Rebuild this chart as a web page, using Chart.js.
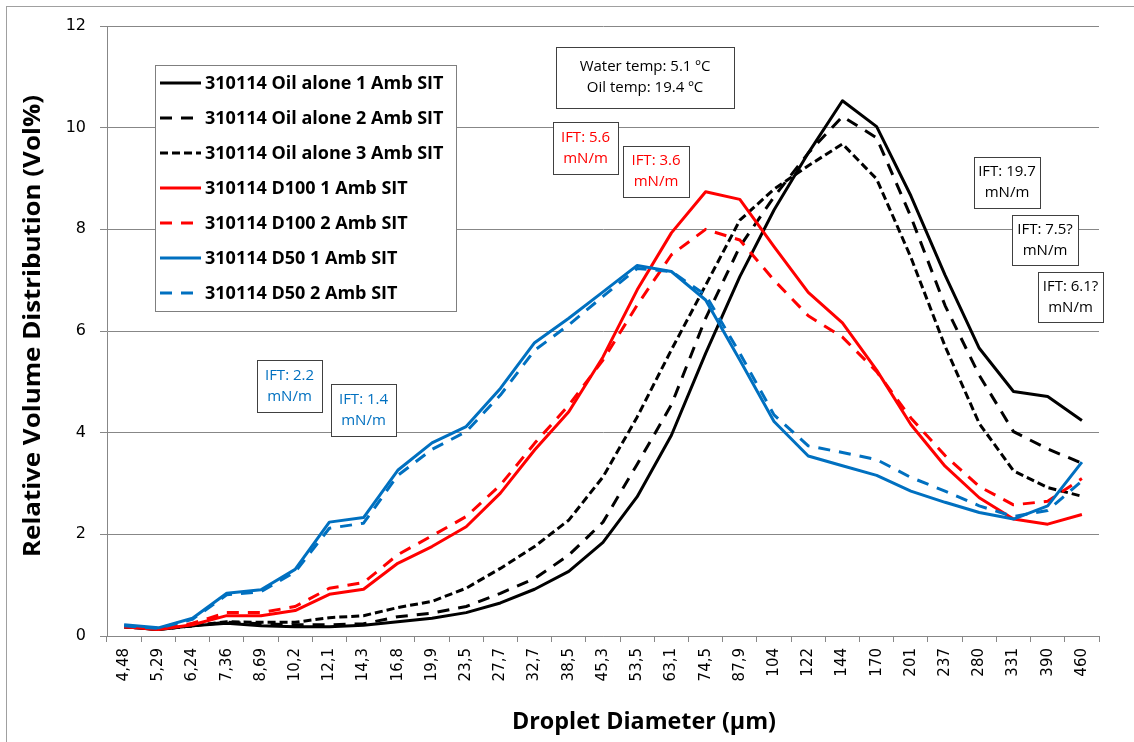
<!DOCTYPE html>
<html>
<head>
<meta charset="utf-8">
<script src="https://cdn.jsdelivr.net/npm/chart.js@4.4.1/dist/chart.umd.min.js"></script>
<style>
  html, body { margin: 0; padding: 0; background: #fff; }
  canvas { display: block; }
</style>
</head>
<body>
<canvas id="chart" width="1134" height="742"></canvas>
<script>
// Droplet diameter classes (µm), as printed on the axis
const diameters = ['4,48', '5,29', '6,24', '7,36', '8,69', '10,2', '12,1', '14,3', '16,8', '19,9',
  '23,5', '27,7', '32,7', '38,5', '45,3', '53,5', '63,1', '74,5', '87,9', '104',
  '122', '144', '170', '201', '237', '280', '331', '390', '460'];

const oilAlone1 = [0.18, 0.13, 0.2, 0.25, 0.2, 0.18, 0.18, 0.21, 0.28, 0.35,
  0.46, 0.65, 0.92, 1.27, 1.84, 2.74, 3.95, 5.56, 7.07, 8.38,
  9.5, 10.53, 10.02, 8.66, 7.1, 5.66, 4.81, 4.71, 4.24];
const oilAlone2 = [0.18, 0.13, 0.2, 0.27, 0.24, 0.22, 0.22, 0.24, 0.38, 0.45,
  0.58, 0.84, 1.13, 1.59, 2.24, 3.38, 4.55, 6.25, 7.66, 8.64,
  9.5, 10.22, 9.8, 8.25, 6.5, 5.13, 4.02, 3.68, 3.4];
const oilAlone3 = [0.18, 0.13, 0.2, 0.28, 0.27, 0.27, 0.36, 0.4, 0.56, 0.68,
  0.94, 1.33, 1.76, 2.28, 3.13, 4.31, 5.63, 6.9, 8.18, 8.79,
  9.25, 9.68, 8.99, 7.45, 5.7, 4.18, 3.25, 2.92, 2.75];
const d100Run1 = [0.18, 0.13, 0.22, 0.4, 0.4, 0.5, 0.82, 0.92, 1.43, 1.76,
  2.15, 2.81, 3.66, 4.41, 5.49, 6.81, 7.93, 8.74, 8.59, 7.66,
  6.76, 6.16, 5.23, 4.16, 3.34, 2.72, 2.3, 2.2, 2.39];
const d100Run2 = [0.18, 0.13, 0.25, 0.46, 0.46, 0.58, 0.94, 1.05, 1.6, 1.97,
  2.35, 2.97, 3.79, 4.54, 5.43, 6.51, 7.5, 8.0, 7.79, 7.0,
  6.3, 5.88, 5.2, 4.29, 3.55, 2.94, 2.58, 2.65, 3.1];
const d50Run1 = [0.22, 0.16, 0.35, 0.84, 0.91, 1.31, 2.24, 2.33, 3.26, 3.8,
  4.12, 4.87, 5.77, 6.25, 6.77, 7.29, 7.17, 6.61, 5.43, 4.22,
  3.54, 3.35, 3.16, 2.85, 2.63, 2.43, 2.3, 2.56, 3.42];
const d50Run2 = [0.2, 0.15, 0.33, 0.81, 0.87, 1.26, 2.12, 2.22, 3.16, 3.67,
  4.02, 4.74, 5.62, 6.12, 6.68, 7.23, 7.17, 6.71, 5.56, 4.35,
  3.74, 3.61, 3.47, 3.12, 2.85, 2.56, 2.35, 2.47, 3.05];

const seriesLabels = ['310114 Oil alone 1 Amb SIT', '310114 Oil alone 2 Amb SIT', '310114 Oil alone 3 Amb SIT',
  '310114 D100 1 Amb SIT', '310114 D100 2 Amb SIT', '310114 D50 1 Amb SIT', '310114 D50 2 Amb SIT'];
const yTicks = [0, 2, 4, 6, 8, 10, 12];

const BLACK = '#000000';
const RED = '#ff0000';
const BLUE = '#0070c0';
const GRID = '#878787';
const LONG_DASH = [12, 9];
const SHORT_DASH = [8, 4];

const seriesStyle = [
  { color: BLACK, dash: [] },
  { color: BLACK, dash: LONG_DASH },
  { color: BLACK, dash: SHORT_DASH },
  { color: RED, dash: [] },
  { color: RED, dash: LONG_DASH },
  { color: BLUE, dash: [] },
  { color: BLUE, dash: LONG_DASH }
];
const seriesValues = [oilAlone1, oilAlone2, oilAlone3, d100Run1, d100Run2, d50Run1, d50Run2];

const datasets = seriesValues.map((data, i) => ({
  label: seriesLabels[i],
  data,
  borderColor: seriesStyle[i].color,
  borderDash: seriesStyle[i].dash,
  borderWidth: 3,
  pointRadius: 0,
  tension: 0,
  fill: false,
  borderJoinStyle: 'round',
  order: seriesValues.length - i // later series drawn on top, as in the original
}));

// text boxes: [x, y, w, h, lines, color]
const notes = [
  [556, 47, 178, 61, ['Water temp: 5.1 ºC', 'Oil temp: 19.4 ºC'], BLACK],
  [553, 122, 65, 52, ['IFT: 5.6', 'mN/m'], RED],
  [623, 146, 66, 51, ['IFT: 3.6', 'mN/m'], RED],
  [974, 157, 66, 51, ['IFT: 19.7', 'mN/m'], BLACK],
  [1012, 215, 66, 50, ['IFT: 7.5?', 'mN/m'], BLACK],
  [1038, 272, 65, 50, ['IFT: 6.1?', 'mN/m'], BLACK],
  [257, 360, 65, 52, ['IFT: 2.2', 'mN/m'], BLUE],
  [331, 384, 65, 52, ['IFT: 1.4', 'mN/m'], BLUE]
];

// draw text centred at (x, y), stretched along its direction to a given length
function fitText(c, text, x, y, length, angle) {
  const w = c.measureText(text).width;
  c.save();
  c.translate(x, y);
  c.rotate(angle);
  c.scale(length / w, 1);
  c.fillText(text, 0, 0);
  c.restore();
}

const decorations = {
  id: 'decorations',
  beforeDraw(chart) {
    const c = chart.ctx;
    c.save();
    c.fillStyle = '#fff';
    c.fillRect(0, 0, chart.width, chart.height);
    c.restore();
  },
  afterDraw(chart) {
    const c = chart.ctx;
    c.save();

    // outer chart border (only top and left visible in the original crop)
    c.strokeStyle = '#a0a0a0';
    c.lineWidth = 1;
    c.strokeRect(6.5, 6.5, 1300, 900);

    // axis titles
    c.fillStyle = '#000';
    c.font = 'bold 23px "Open Sans"';
    c.textAlign = 'center';
    c.textBaseline = 'middle';
    fitText(c, 'Droplet Diameter (µm)', 644, 722, 264, 0);
    fitText(c, 'Relative Volume Distribution (Vol%)', 33, 326, 462, -Math.PI / 2);

    // legend
    const lx = 155, ly = 65, lw = 301, lh = 246;
    c.fillStyle = '#fff';
    c.fillRect(lx, ly, lw, lh);
    c.strokeStyle = '#7f7f7f';
    c.lineWidth = 1;
    c.strokeRect(lx + 0.5, ly + 0.5, lw, lh);
    c.font = 'bold 18px "Open Sans"';
    c.textAlign = 'left';
    chart.data.datasets.forEach((ds, i) => {
      const y = 83 + i * 35;
      c.strokeStyle = ds.borderColor;
      c.lineWidth = 3;
      c.setLineDash(ds.borderDash);
      c.beginPath();
      c.moveTo(160, y);
      c.lineTo(201, y);
      c.stroke();
      c.setLineDash([]);
      c.fillStyle = '#000';
      c.fillText(ds.label, 205, y + 1);
    });

    // annotation boxes
    c.font = '15px "Open Sans"';
    c.textAlign = 'center';
    notes.forEach(([x, y, w, h, lines, color]) => {
      c.fillStyle = '#fff';
      c.fillRect(x, y, w, h);
      c.strokeStyle = '#404040';
      c.lineWidth = 1;
      c.strokeRect(x + 0.5, y + 0.5, w, h);
      c.fillStyle = color;
      const step = 21;
      const y0 = y + h / 2 - step / 2 * (lines.length - 1);
      lines.forEach((t, k) => c.fillText(t, x + w / 2, y0 + k * step));
    });
    c.restore();
  }
};

new Chart(document.getElementById('chart'), {
  type: 'line',
  data: { labels: diameters, datasets },
  options: {
    responsive: false,
    animation: false,
    events: [],
    layout: { padding: { top: 26, right: 35, left: 0, bottom: 0 } },
    plugins: { legend: { display: false }, tooltip: { enabled: false } },
    scales: {
      x: {
        offset: true,
        grid: { offset: true, drawOnChartArea: false, drawTicks: true, tickLength: 6, color: GRID },
        border: { color: GRID },
        ticks: {
          autoSkip: false, minRotation: 90, maxRotation: 90, padding: 6, color: '#000',
          font: { family: '"DejaVu Sans"', size: 15 }
        },
        afterFit: s => { s.height = 106; }
      },
      y: {
        min: 0,
        max: 12,
        afterBuildTicks: s => { s.ticks = yTicks.map(v => ({ value: v })); },
        grid: { color: GRID, tickLength: 7 },
        border: { color: GRID },
        ticks: { padding: 14, color: '#000', font: { family: '"DejaVu Sans"', size: 16 } },
        afterFit: s => { s.width = 107; }
      }
    }
  },
  plugins: [decorations]
});
</script>
</body>
</html>
